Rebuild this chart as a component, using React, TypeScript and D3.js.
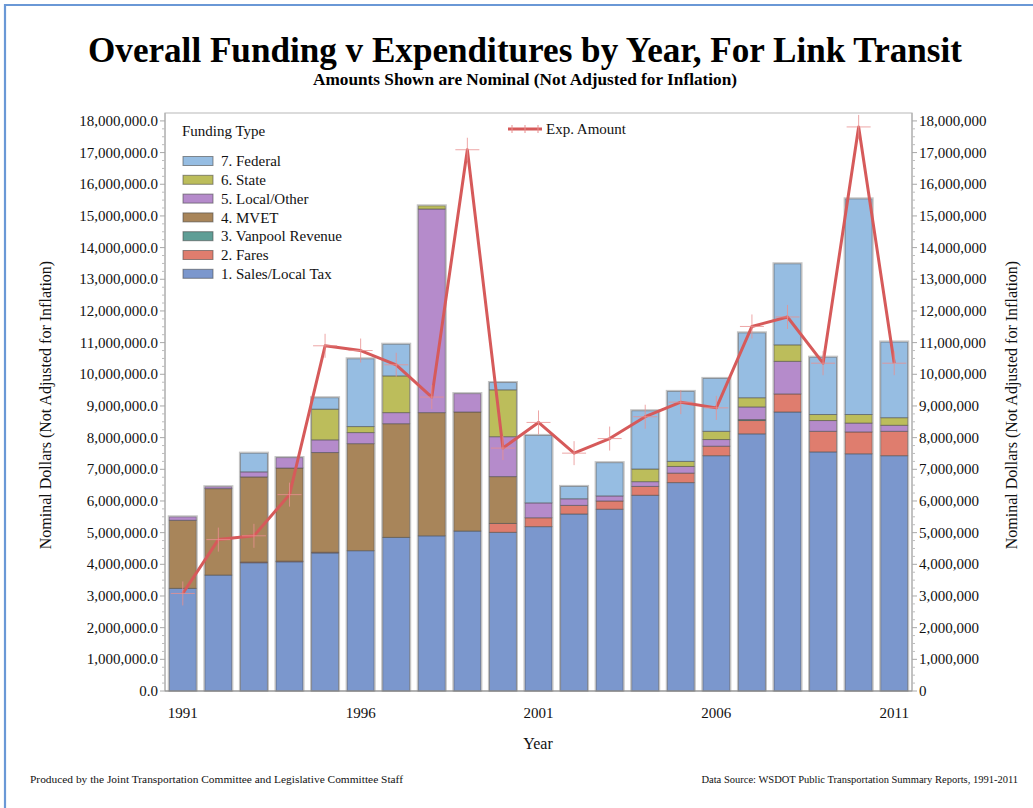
import React from "react";
import * as d3 from "d3";

const years = [1991,1992,1993,1994,1995,1996,1997,1998,1999,2000,2001,2002,2003,2004,2005,2006,2007,2008,2009,2010,2011];
const salesTax = [3.24,3.66,4.05,4.08,4.36,4.43,4.85,4.90,5.05,5.01,5.19,5.59,5.74,6.18,6.58,7.43,8.12,8.81,7.55,7.49,7.43];
const fares =    [0,0,0.02,0.02,0.02,0,0,0,0,0.28,0.28,0.27,0.26,0.28,0.30,0.30,0.42,0.57,0.65,0.69,0.77];
const vanpool =  [0,0,0,0,0,0,0,0,0,0,0,0,0,0,0,0,0.03,0,0,0,0];
const mvet =     [2.15,2.73,2.69,2.94,3.15,3.38,3.59,3.89,3.76,1.48,0,0,0,0,0,0,0,0,0,0,0];
const localOther=[0.11,0.06,0.16,0.33,0.40,0.35,0.35,6.43,0.58,1.26,0.47,0.21,0.16,0.15,0.21,0.21,0.40,1.03,0.34,0.28,0.19];
const stateF =   [0,0,0,0,0.97,0.19,1.16,0.10,0,1.48,0,0,0,0.40,0.16,0.26,0.29,0.52,0.19,0.27,0.24];
const federal =  [0,0,0.59,0,0.36,2.14,1.00,0,0,0.23,2.13,0.39,1.05,1.84,2.21,1.67,2.05,2.56,1.81,6.81,2.39];
const expAmount =[3.08,4.78,4.90,6.20,10.90,10.75,10.30,9.28,17.09,7.67,8.48,7.51,7.97,8.66,9.12,8.94,11.51,11.81,10.35,17.81,10.35];

const seriesNames = ["1. Sales/Local Tax","2. Fares","3. Vanpool Revenue","4. MVET","5. Local/Other","6. State","7. Federal"];
const seriesColors = ["#7b97cd","#df7d6e","#5f9e96","#a8855a","#b58bcb","#bcbd5b","#96bde2"];
const seriesValues = [salesTax, fares, vanpool, mvet, localOther, stateF, federal];
const xTickYears = [1991,1996,2001,2006,2011];

const FONT = "'Liberation Serif', 'Times New Roman', serif";

export default function App() {
  const W = 1033, H = 808;
  const left = 165, right = 912, top = 113, bottom = 691;

  const x = d3.scaleBand<number>().domain(years).range([left, right]).paddingInner(0.24).paddingOuter(0.12);
  const y = d3.scaleLinear().domain([0, 18.25e6]).range([bottom, top]);

  const rows = years.map((yr, i) => {
    const r: any = { year: yr };
    seriesNames.forEach((n, k) => { r[n] = seriesValues[k][i] * 1e6; });
    return r;
  });
  const stacked = d3.stack().keys(seriesNames)(rows);

  const majorTicks = d3.range(0, 18e6 + 1, 1e6);
  const minorTicks = d3.range(0, 18e6 + 1, 250000).filter(v => v % 1e6 !== 0);
  const fmtL = d3.format(",.1f");
  const fmtR = d3.format(",");

  const line = d3.line<number>()
    .x((_, i) => (x(years[i]) as number) + x.bandwidth() / 2)
    .y(d => y(d * 1e6));

  const legendRowY = (k: number) => 161 + k * 18.8;
  const legendOrder = [6,5,4,3,2,1,0];

  return (
    <svg width={W} height={H} style={{ position: "absolute", left: 0, top: 0, background: "#fff" }} fontFamily={FONT}>
      <rect x={0} y={0} width={W} height={H} fill="#fff" />
      {/* page border */}
      <path d={`M5,${H} L5,5 L${W},5`} fill="none" stroke="#6a98d6" strokeWidth={2.2} />

      {/* titles */}
      <text x={525} y={62} textAnchor="middle" fontSize={35} fontWeight="bold" textLength={874} lengthAdjust="spacingAndGlyphs">Overall Funding v Expenditures by Year, For Link Transit</text>
      <text x={525} y={85} textAnchor="middle" fontSize={16} fontWeight="bold" textLength={424} lengthAdjust="spacingAndGlyphs">Amounts Shown are Nominal (Not Adjusted for Inflation)</text>

      {/* plot frame */}
      <rect x={left} y={top} width={right - left} height={bottom - top} fill="none" stroke="#c4c4c4" strokeWidth={1.2} />

      {/* bars */}
      {stacked.map((s, k) => (
        <g key={k} fill={seriesColors[k]}>
          {s.map((d, i) => {
            const h = y(d[0]) - y(d[1]);
            if (h <= 0) return null;
            return <rect key={i} x={x(years[i])} y={y(d[1])} width={x.bandwidth()} height={h}
              stroke="#4a4a4a" strokeOpacity={0.55} strokeWidth={1} />;
          })}
        </g>
      ))}
      {/* bar halos */}
      {years.map((yr, i) => {
        const tot = stacked[stacked.length - 1][i][1];
        return <rect key={yr} x={(x(yr) as number) - 1} y={y(tot) - 1} width={x.bandwidth() + 2} height={bottom - y(tot) + 1}
          fill="none" stroke="#9a9a9a" strokeOpacity={0.6} strokeWidth={1} />;
      })}

      {/* expenditure line */}
      <path d={line(expAmount) || ""} fill="none" stroke="#d65a5a" strokeWidth={3} strokeLinejoin="round" />
      {expAmount.map((v, i) => {
        const cx = (x(years[i]) as number) + x.bandwidth() / 2, cy = y(v * 1e6);
        return <path key={i} d={`M${cx - 12},${cy} H${cx + 12} M${cx},${cy - 12} V${cy + 12}`} stroke="#e89090" strokeOpacity={0.8} strokeWidth={1} />;
      })}

      {/* left axis */}
      <line x1={left} x2={left} y1={top} y2={bottom} stroke="#a8a8a8" />
      {majorTicks.map(t => (
        <g key={"lm" + t}>
          <line x1={left - 5} x2={left} y1={y(t)} y2={y(t)} stroke="#a8a8a8" />
          <text x={left - 7} y={y(t)} dy="0.33em" textAnchor="end" fontSize={15} fill="#111">{fmtL(t)}</text>
        </g>
      ))}
      {minorTicks.map(t => <line key={"ln" + t} x1={left - 3} x2={left} y1={y(t)} y2={y(t)} stroke="#bdbdbd" />)}

      {/* right axis */}
      <line x1={right} x2={right} y1={top} y2={bottom} stroke="#a8a8a8" />
      {majorTicks.map(t => (
        <g key={"rm" + t}>
          <line x1={right} x2={right + 5} y1={y(t)} y2={y(t)} stroke="#a8a8a8" />
          <text x={right + 7} y={y(t)} dy="0.33em" textAnchor="start" fontSize={15} fill="#111">{fmtR(t)}</text>
        </g>
      ))}
      {minorTicks.map(t => <line key={"rn" + t} x1={right} x2={right + 3} y1={y(t)} y2={y(t)} stroke="#bdbdbd" />)}

      {/* bottom axis */}
      <line x1={left} x2={right} y1={bottom} y2={bottom} stroke="#8a8a8a" strokeWidth={1.2} />
      {xTickYears.map(yr => (
        <text key={yr} x={(x(yr) as number) + x.bandwidth() / 2} y={718} textAnchor="middle" fontSize={15} fill="#111">{yr}</text>
      ))}
      <text x={538} y={749} textAnchor="middle" fontSize={16} fill="#111">Year</text>

      {/* y axis labels */}
      <text transform={`translate(51,405) rotate(-90)`} textAnchor="middle" fontSize={16} fill="#111">Nominal Dollars (Not Adjusted for Inflation)</text>
      <text transform={`translate(1017,405) rotate(-90)`} textAnchor="middle" fontSize={16} fill="#111">Nominal Dollars (Not Adjusted for Inflation)</text>

      {/* legend */}
      <text x={182} y={136} fontSize={15} fill="#111">Funding Type</text>
      {legendOrder.map((k, r) => (
        <g key={k}>
          <rect x={183} y={legendRowY(r) - 4.5} width={30} height={9} fill={seriesColors[k]} stroke="#4a4a4a" strokeOpacity={0.6} />
          <text x={221} y={legendRowY(r)} dy="0.35em" fontSize={15} fill="#111">{seriesNames[k]}</text>
        </g>
      ))}
      <line x1={508} x2={542} y1={129} y2={129} stroke="#d65a5a" strokeWidth={3} />
      {[512, 525, 538].map(cx => <line key={cx} x1={cx} x2={cx} y1={125} y2={133} stroke="#e89090" strokeWidth={1} />)}
      <text x={546} y={134} fontSize={15} fill="#111">Exp. Amount</text>

      {/* footers */}
      <text x={30} y={783} fontSize={10.5} fill="#111" textLength={373} lengthAdjust="spacingAndGlyphs">Produced by the Joint Transportation Committee and Legislative Committee Staff</text>
      <text x={1018} y={783} textAnchor="end" fontSize={10.5} fill="#111">Data Source: WSDOT Public Transportation Summary Reports, 1991-2011</text>
    </svg>
  );
}
